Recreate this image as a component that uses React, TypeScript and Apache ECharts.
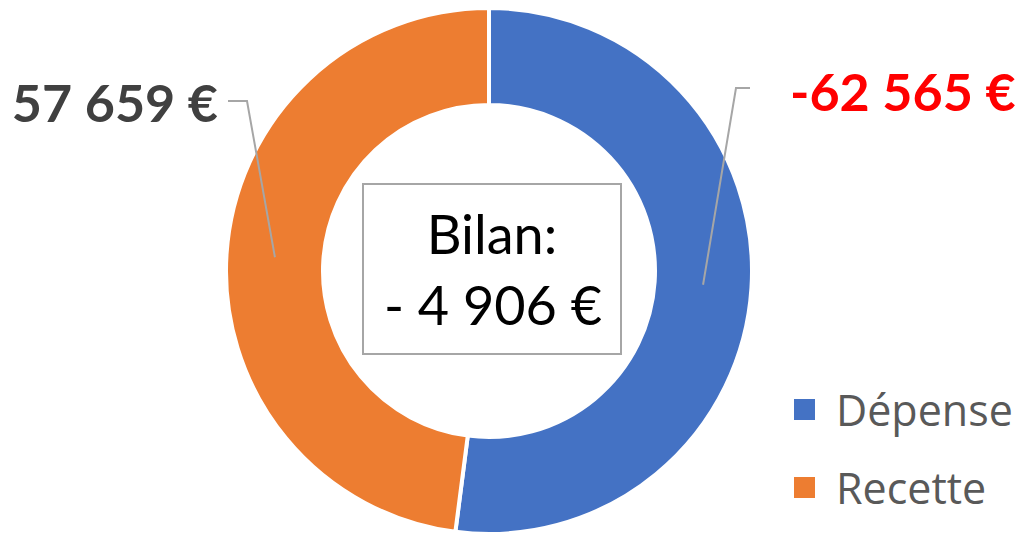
import React, { useEffect, useRef } from "react";
import * as echarts from "echarts";

const categories = ["Dépense", "Recette"];
const signedValues = [-62565, 57659];
const colors = ["#4472C4", "#ED7D31"];
const labelColors = ["#FF0000", "#404040"];
const centerTitle = "Bilan:";

const FONT = "Lato, 'Open Sans', sans-serif";
const LEGEND_FONT = "'Open Sans', Lato, sans-serif";
const CX = 489;
const CY = 271;
const R_IN = 168;
const R_OUT = 261;

function fmt(n: number): string {
  const s = Math.abs(Math.round(n)).toString().replace(/\B(?=(\d{3})+(?!\d))/g, " ");
  return (n < 0 ? "-" : "") + s + " €";
}

export default function App() {
  const ref = useRef<HTMLDivElement>(null);
  useEffect(() => {
    if (!ref.current) return;
    const chart = echarts.init(ref.current, undefined, { renderer: "svg" });
    const absVals = signedValues.map((v) => Math.abs(v));
    const total = absVals.reduce((a, b) => a + b, 0);
    const balance = signedValues.reduce((a, b) => a + b, 0);
    const balanceText = (balance < 0 ? "- " : "") + fmt(Math.abs(balance));

    const mids: number[] = [];
    let acc = 0;
    absVals.forEach((v) => {
      const a = (v / total) * Math.PI * 2;
      mids.push(acc + a / 2);
      acc += a;
    });

    const labelLayout = (p: any) => {
      const i = p.dataIndex;
      const ang = mids[i];
      const rm = (R_IN + R_OUT) / 2;
      const sx = CX + rm * Math.sin(ang);
      const sy = CY - rm * Math.cos(ang);
      const right = Math.sin(ang) > 0;
      if (right) {
        return {
          x: 790,
          y: 91,
          align: "left",
          verticalAlign: "middle",
          labelLinePoints: [
            [sx, sy],
            [736, 88],
            [750, 88],
          ],
        };
      }
      return {
        x: 218,
        y: 102,
        align: "right",
        verticalAlign: "middle",
        labelLinePoints: [
          [sx, sy],
          [247, 101],
          [228, 101],
        ],
      };
    };

    chart.setOption({
      animation: false,
      backgroundColor: "#ffffff",
      color: colors,
      legend: {
        orient: "vertical",
        left: 787,
        top: 383,
        height: 300,
        itemWidth: 23,
        itemHeight: 23,
        itemGap: 35,
        icon: "rect",
        data: categories.map((c, i) => ({ name: c, itemStyle: { color: colors[i] } })),
        textStyle: {
          fontFamily: LEGEND_FONT,
          fontSize: 43,
          color: "#595959",
          padding: [0, 0, 0, 15],
        },
      },
      series: [
        {
          type: "pie",
          z: 2,
          center: [CX, CY],
          radius: [R_IN - 2, R_OUT + 2],
          startAngle: 90,
          clockwise: true,
          itemStyle: { borderColor: "#ffffff", borderWidth: 4 },
          emphasis: { disabled: true },
          label: { show: false },
          labelLine: { show: false },
          data: categories.map((c, i) => ({
            name: c,
            value: absVals[i],
            itemStyle: { color: colors[i] },
          })),
        },
        {
          type: "pie",
          z: 5,
          silent: true,
          legendHoverLink: false,
          center: [CX, CY],
          radius: [R_IN - 2, R_OUT + 2],
          startAngle: 90,
          clockwise: true,
          avoidLabelOverlap: false,
          itemStyle: { color: "rgba(0,0,0,0)", borderWidth: 0 },
          emphasis: { disabled: true },
          label: {
            show: true,
            fontFamily: FONT,
            fontSize: 52,
            fontWeight: "bold",
            formatter: (p: any) => fmt(signedValues[p.dataIndex]),
          },
          labelLine: {
            show: true,
            lineStyle: { color: "#A6A6A6", width: 2 },
          },
          labelLayout,
          data: categories.map((c, i) => ({
            name: c,
            value: absVals[i],
            label: { color: labelColors[i] },
          })),
        },
      ],
      graphic: [
        {
          type: "rect",
          shape: { x: 363, y: 184, width: 258, height: 170 },
          style: { fill: "#ffffff", stroke: "#A6A6A6", lineWidth: 2 },
        },
        {
          type: "text",
          x: 492,
          y: 233,
          style: {
            text: centerTitle,
            fontFamily: FONT,
            fontSize: 54,
            fill: "#000000",
            textAlign: "center",
            textVerticalAlign: "middle",
          },
        },
        {
          type: "text",
          x: 493,
          y: 304,
          style: {
            text: balanceText,
            fontFamily: FONT,
            fontSize: 54,
            fill: "#000000",
            textAlign: "center",
            textVerticalAlign: "middle",
          },
        },
      ],
    });
    return () => chart.dispose();
  }, []);
  return (
    <div
      ref={ref}
      style={{ position: "fixed", left: 0, top: 0, width: 1025, height: 533 }}
    />
  );
}
